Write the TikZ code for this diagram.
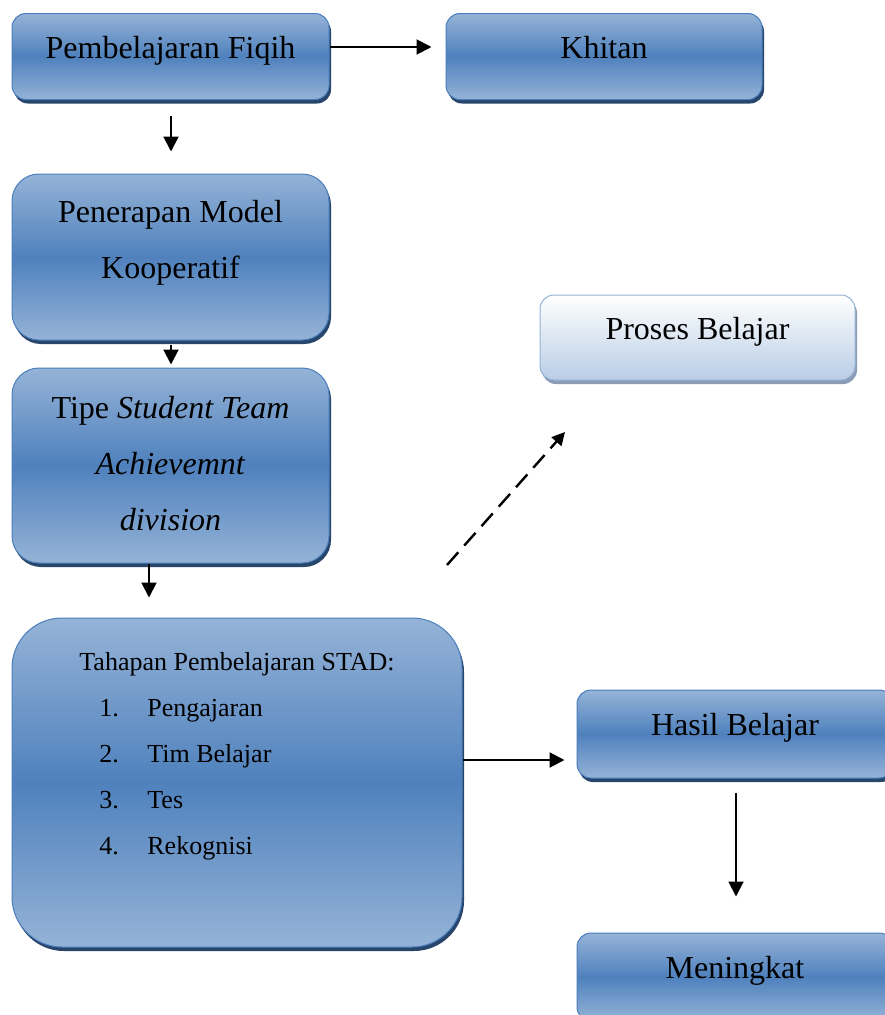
\documentclass[tikz,border=0pt]{standalone}
\usepackage{fontspec}
\setmainfont{Liberation Serif}
\usetikzlibrary{arrows.meta,shadows}
\definecolor{blueL}{HTML}{95B3D7}
\definecolor{blueM}{HTML}{4F81BD}
\definecolor{blueB}{HTML}{4A7EBB}
\definecolor{blueS}{HTML}{28456B}
\definecolor{paleB}{HTML}{B9CDE5}
\definecolor{paleD}{HTML}{95B3D7}
\definecolor{paleS}{HTML}{8A9DB5}
\tikzset{
  box/.style={draw=blueB, line width=1pt, top color=blueL, bottom color=blueL, middle color=blueM,
    rounded corners=14pt, inner sep=0pt,
    drop shadow={shadow xshift=2pt, shadow yshift=-4pt, fill=blueS, opacity=1},
    font=\fontsize{32}{56}\selectfont, text height=12pt, text depth=9pt},
  multibox/.style={box, text height=0pt, text depth=0pt},
  palebox/.style={draw=paleD, line width=1pt, top color=white, bottom color=paleB,
    rounded corners=14pt, inner sep=0pt,
    drop shadow={shadow xshift=2pt, shadow yshift=-4pt, fill=paleS, opacity=1},
    font=\fontsize{32}{56}\selectfont, text height=12pt, text depth=9pt},
  arr/.style={line width=2pt, -{Triangle[length=15pt,width=15pt]}},
  dasharr/.style={line width=2.4pt, dash pattern=on 17pt off 9pt, -{Triangle[length=13pt,width=13pt]}},
}
\begin{document}
\begin{tikzpicture}[x=1pt,y=-1pt]
\useasboundingbox (0,0) rectangle (885,1015);
\clip (0,0) rectangle (885,1015);
\node[box, minimum width=317pt, minimum height=86pt] (fiqih) at (170.5,56.5) {Pembelajaran Fiqih};
\node[box, minimum width=316pt, minimum height=86pt] (khitan) at (604,56.5) {Khitan};
\node[multibox, rounded corners=27pt, minimum width=317pt, minimum height=166pt] (penerapan) at (170.5,257)
  {\raisebox{35pt}[0pt][0pt]{\begin{tabular}[t]{@{}c@{}}Penerapan Model\\Kooperatif\end{tabular}}};
\node[multibox, rounded corners=27pt, minimum width=317pt, minimum height=195pt] (tipe) at (170.5,465.5)
  {\raisebox{47.5pt}[0pt][0pt]{\begin{tabular}[t]{@{}c@{}}Tipe \textit{Student Team}\\\textit{Achievemnt}\\\textit{division}\end{tabular}}};
\node[multibox, rounded corners=50pt, minimum width=450pt, minimum height=329pt, font=\fontsize{26}{46}\selectfont] (stad) at (237,782.5)
  {\raisebox{112.5pt}[0pt][0pt]{\begin{tabular}[t]{@{}l@{}}Tahapan Pembelajaran STAD:\\
   \hspace*{20pt}\makebox[48pt][l]{1.}Pengajaran\\
   \hspace*{20pt}\makebox[48pt][l]{2.}Tim Belajar\\
   \hspace*{20pt}\makebox[48pt][l]{3.}Tes\\
   \hspace*{20pt}\makebox[48pt][l]{4.}Rekognisi\end{tabular}}};
\node[palebox, minimum width=315pt, minimum height=85pt] (proses) at (697.5,337.5) {Proses Belajar};
\node[box, minimum width=316pt, minimum height=88pt] (hasil) at (735,734) {Hasil Belajar};
\node[box, minimum width=316pt, minimum height=88pt] (meningkat) at (735,977) {Meningkat};
\coordinate (d1) at (447,565);
\coordinate (d2) at (565,432);
\draw[arr, shorten >=14pt] ([yshift=9.5pt]fiqih.east) -- ([yshift=9.5pt]khitan.west);
\draw[arr, shorten <=16pt, shorten >=22pt] ([xshift=0.5pt]fiqih.south) -- ([xshift=0.5pt]penerapan.north);
\draw[arr, shorten <=4pt, shorten >=3pt] ([xshift=0.5pt]penerapan.south) -- ([xshift=0.5pt]tipe.north);
\draw[arr, shorten >=20pt] ([xshift=-21.5pt]tipe.south) -- ([xshift=-21.5pt]tipe.south |- stad.north);
\draw[arr, shorten >=12pt] ([yshift=22.5pt]stad.east) -- ([yshift=22.5pt]stad.east -| hasil.west);
\draw[arr, shorten <=14pt, shorten >=36pt] ([xshift=1pt]hasil.south) -- ([xshift=1pt]meningkat.north);
\draw[dasharr] (d1) -- (d2);
\end{tikzpicture}
\end{document}
